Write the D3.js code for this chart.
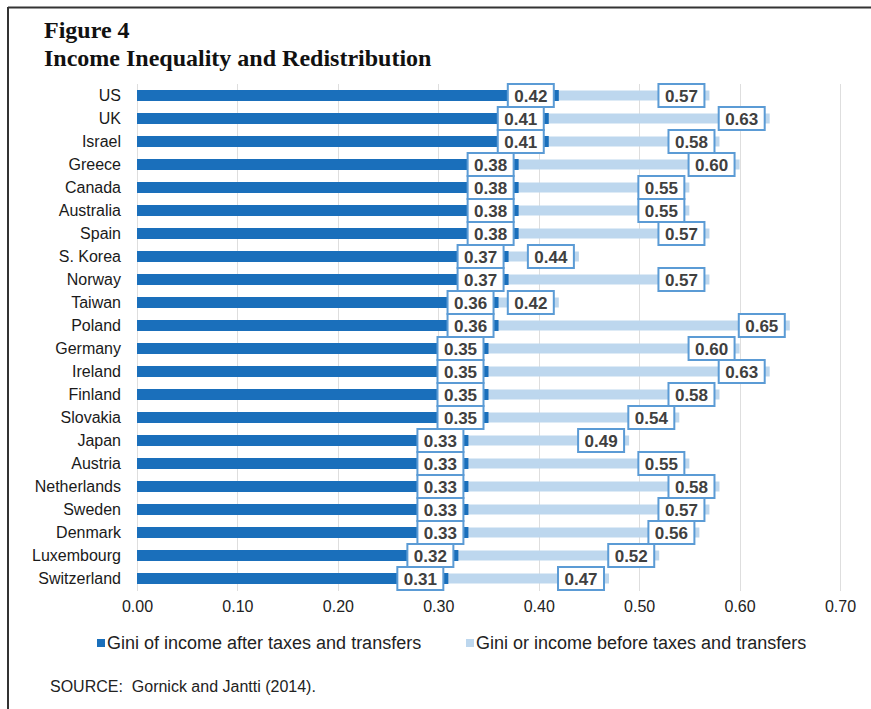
<!DOCTYPE html>
<html>
<head>
<meta charset="utf-8">
<script src="https://cdn.jsdelivr.net/npm/d3@7"></script>
<style>
  html, body { margin: 0; padding: 0; background: #fff; }
  svg { display: block; }
</style>
</head>
<body>
<svg id="chart" width="871" height="709"></svg>
<script>
// Gini coefficients by country (Gornick and Jantti, 2014)
const countries = ["US", "UK", "Israel", "Greece", "Canada", "Australia", "Spain", "S. Korea",
  "Norway", "Taiwan", "Poland", "Germany", "Ireland", "Finland", "Slovakia", "Japan",
  "Austria", "Netherlands", "Sweden", "Denmark", "Luxembourg", "Switzerland"];
const giniAfter = [0.42, 0.41, 0.41, 0.38, 0.38, 0.38, 0.38, 0.37, 0.37, 0.36, 0.36,
  0.35, 0.35, 0.35, 0.35, 0.33, 0.33, 0.33, 0.33, 0.33, 0.32, 0.31];
const giniBefore = [0.57, 0.63, 0.58, 0.60, 0.55, 0.55, 0.57, 0.44, 0.57, 0.42, 0.65,
  0.60, 0.63, 0.58, 0.54, 0.49, 0.55, 0.58, 0.57, 0.56, 0.52, 0.47];
const xTicks = [0, 0.1, 0.2, 0.3, 0.4, 0.5, 0.6, 0.7];
const seriesNames = ["Gini of income after taxes and transfers", "Gini or income before taxes and transfers"];

const colDark = "#1a6fbb";
const colLight = "#bdd7ee";
const colBox = "#5b9bd5";
const sans = "Arial, 'Liberation Sans', sans-serif";
const serif = "'Liberation Serif', 'Times New Roman', serif";

const svg = d3.select("#chart");

// frame: top and left rules
svg.append("line").attr("x1", 8).attr("x2", 871).attr("y1", 7.5).attr("y2", 7.5)
  .attr("stroke", "#333").attr("stroke-width", 2);
svg.append("line").attr("x1", 8).attr("x2", 8).attr("y1", 7).attr("y2", 709)
  .attr("stroke", "#333").attr("stroke-width", 2);

// titles
svg.append("text").attr("x", 44).attr("y", 38)
  .style("font-family", serif).style("font-weight", "bold").style("font-size", "24px")
  .attr("fill", "#111").text("Figure 4");
svg.append("text").attr("x", 44).attr("y", 66)
  .style("font-family", serif).style("font-weight", "bold").style("font-size", "24px")
  .attr("fill", "#111").text("Income Inequality and Redistribution");

const x = d3.scaleLinear().domain([0, 0.7]).range([137, 840]);
const y = d3.scaleBand().domain(countries).range([84, 590]).paddingInner(0).paddingOuter(0);

// gridlines
svg.append("g").selectAll("line").data(xTicks).join("line")
  .attr("x1", d => Math.round(x(d)) + 0.5).attr("x2", d => Math.round(x(d)) + 0.5)
  .attr("y1", 84).attr("y2", 591)
  .attr("stroke", "#dedede").attr("stroke-width", 1);

// x axis labels
const xAxis = d3.axisBottom(x).tickValues(xTicks).tickFormat(d3.format(".2f")).tickSize(0).tickPadding(0);
const gx = svg.append("g").attr("transform", "translate(0,601)").call(xAxis);
gx.select(".domain").remove();
gx.selectAll("text").style("font-family", sans)
  .style("font-size", "16px").attr("fill", "#222").attr("dy", "0.71em");

// y axis labels
const yAxis = d3.axisLeft(y).tickSize(0).tickPadding(0);
const gy = svg.append("g").attr("transform", "translate(121,0)").call(yAxis);
gy.select(".domain").remove();
gy.selectAll("text").style("font-family", sans)
  .style("font-size", "16px").attr("fill", "#1a1a1a");

const rows = countries.map((c, i) => ({ c, after: giniAfter[i], before: giniBefore[i] }));
const darkH = 11, lightH = 10;

// before-tax bars (behind)
svg.append("g").selectAll("rect").data(rows).join("rect")
  .attr("x", x(0)).attr("width", d => x(d.before) - x(0))
  .attr("y", d => y(d.c) + y.bandwidth() / 2 - lightH / 2).attr("height", lightH)
  .attr("fill", colLight);

// after-tax bars
svg.append("g").selectAll("rect").data(rows).join("rect")
  .attr("x", x(0)).attr("width", d => x(d.after) - x(0))
  .attr("y", d => y(d.c) + y.bandwidth() / 2 - darkH / 2).attr("height", darkH)
  .attr("fill", colDark);

// value labels in boxed callouts at the inside end of each bar
const boxW = 46, boxH = 23;
function labels(key) {
  const g = svg.append("g");
  const lg = g.selectAll("g").data(rows).join("g")
    .attr("transform", d => `translate(${x(d[key]) - 5 - boxW},${y(d.c) + y.bandwidth() / 2 - boxH / 2})`);
  lg.append("rect").attr("x", 0).attr("y", 0).attr("width", boxW).attr("height", boxH)
    .attr("fill", "#fff").attr("stroke", colBox).attr("stroke-width", 2);
  lg.append("text").attr("x", boxW / 2).attr("y", boxH / 2).attr("dy", "0.36em")
    .attr("text-anchor", "middle")
    .style("font-family", sans).style("font-weight", "bold").style("font-size", "17px")
    .attr("fill", "#404040")
    .text(d => d3.format(".2f")(d[key]));
}
labels("before");
labels("after");

// legend
const legend = svg.append("g").attr("transform", "translate(0,643)");
const items = [{ name: seriesNames[0], color: colDark, x: 97 }, { name: seriesNames[1], color: colLight, x: 466 }];
items.forEach(it => {
  legend.append("rect").attr("x", it.x).attr("y", -4).attr("width", 8).attr("height", 8).attr("fill", it.color);
  legend.append("text").attr("x", it.x + 10).attr("y", 0).attr("dy", "0.36em")
    .style("font-family", sans).style("font-size", "18px")
    .attr("fill", "#222").text(it.name);
});

// source note
svg.append("text").attr("x", 50).attr("y", 692)
  .attr("xml:space", "preserve").style("white-space", "pre")
  .style("font-family", sans).style("font-size", "16px")
  .attr("fill", "#222").text("SOURCE:  Gornick and Jantti (2014).");
</script>
</body>
</html>
